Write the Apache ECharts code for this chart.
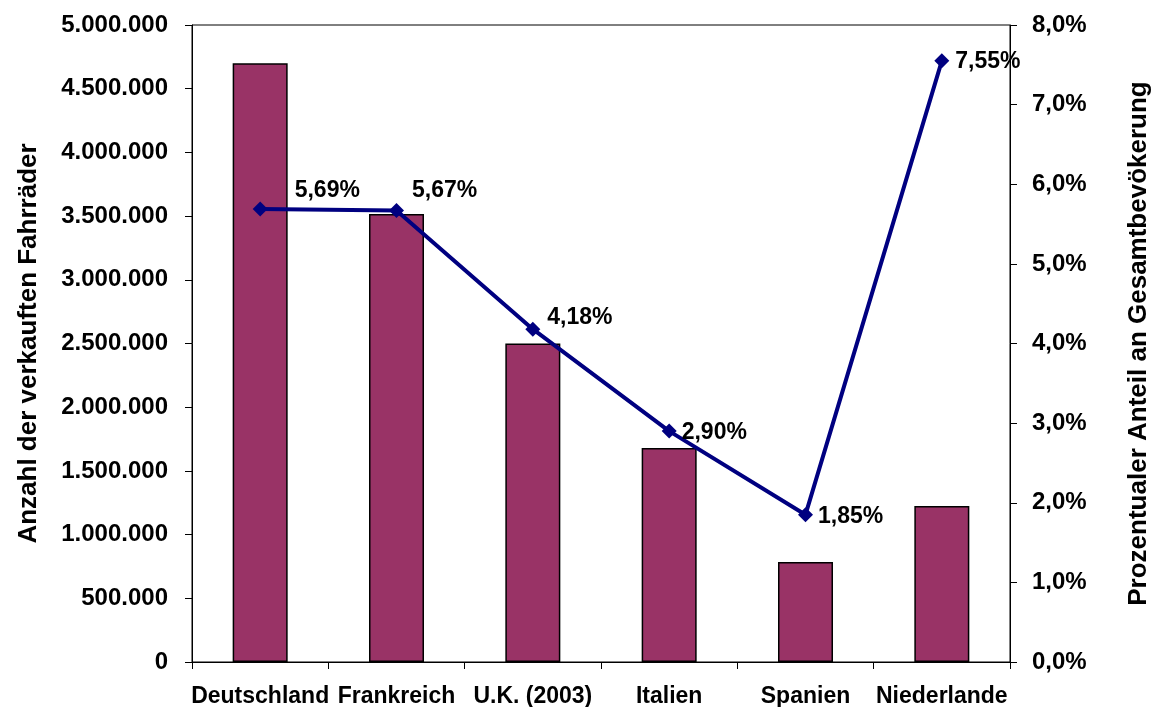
<!DOCTYPE html>
<html>
<head>
<meta charset="utf-8">
<script src="https://cdn.jsdelivr.net/npm/echarts@6/dist/echarts.min.js"></script>
<style>
  html, body { margin: 0; padding: 0; background: #fff; }
  #main { width: 1156px; height: 707px; }
</style>
</head>
<body>
<div id="main"></div>
<script>
const laender = ['Deutschland', 'Frankreich', 'U.K. (2003)', 'Italien', 'Spanien', 'Niederlande'];
const verkaufteRaeder = [4700000, 3516000, 2500000, 1680000, 785000, 1224000];
const anteilProzent = [5.69, 5.67, 4.18, 2.90, 1.85, 7.55];
// label nudges so they sit like in the original
const labelOffsets = [[23, -18], [4, -20], [3, -12], [1, 2], [1, 2], [2, 1]];

const chart = echarts.init(document.getElementById('main'));

function tausender(v) {
  return String(v).replace(/\B(?=(\d{3})+(?!\d))/g, '.');
}
function prozent(v, digits) {
  return v.toFixed(digits).replace('.', ',') + '%';
}

const fontBase = { fontFamily: 'Liberation Sans, Arial, sans-serif', fontWeight: 'bold', color: '#000' };

const option = {
  animation: false,
  grid: {
    left: 192, right: 146, top: 25, bottom: 45,
    outerBoundsMode: 'none',
    show: true, borderColor: '#000', borderWidth: 1
  },
  xAxis: {
    type: 'category',
    data: laender,
    axisLine: { lineStyle: { color: '#000', width: 1 } },
    axisTick: { show: true, length: 7, lineStyle: { color: '#000' } },
    axisLabel: Object.assign({ fontSize: 23, margin: 23, interval: 0 }, fontBase)
  },
  yAxis: [
    {
      type: 'value',
      min: 0, max: 5000000, interval: 500000,
      name: 'Anzahl der verkauften Fahrräder',
      nameLocation: 'middle',
      nameRotate: 90,
      nameGap: 150,
      nameTextStyle: Object.assign({ fontSize: 26 }, fontBase),
      axisLine: { show: true, lineStyle: { color: '#000' } },
      axisTick: { show: true, length: 7, lineStyle: { color: '#000' } },
      splitLine: { show: false },
      axisLabel: Object.assign({ fontSize: 24, margin: 24, formatter: tausender }, fontBase)
    },
    {
      type: 'value',
      min: 0, max: 8, interval: 1,
      position: 'right',
      name: 'Prozentualer Anteil an Gesamtbevökerung',
      nameLocation: 'middle',
      nameRotate: 90,
      nameGap: 116,
      nameTextStyle: Object.assign({ fontSize: 26 }, fontBase),
      axisLine: { show: true, lineStyle: { color: '#000' } },
      axisTick: { show: true, length: 7, lineStyle: { color: '#000' } },
      splitLine: { show: false },
      axisLabel: Object.assign({ fontSize: 24, margin: 22, formatter: v => prozent(v, 1) }, fontBase)
    }
  ],
  series: [
    {
      type: 'bar',
      data: verkaufteRaeder,
      barWidth: 55,
      itemStyle: { color: '#993366', borderColor: '#000', borderWidth: 1.5 }
    },
    {
      type: 'line',
      yAxisIndex: 1,
      data: anteilProzent.map((v, i) => ({
        value: v,
        label: { offset: labelOffsets[i] }
      })),
      symbol: 'diamond',
      symbolSize: 15,
      lineStyle: { color: '#000080', width: 4 },
      itemStyle: { color: '#000080' },
      label: Object.assign({
        show: true,
        position: 'right',
        distance: 4,
        fontSize: 23,
        formatter: p => prozent(p.value, 2)
      }, fontBase)
    }
  ]
};

chart.setOption(option);
</script>
</body>
</html>
